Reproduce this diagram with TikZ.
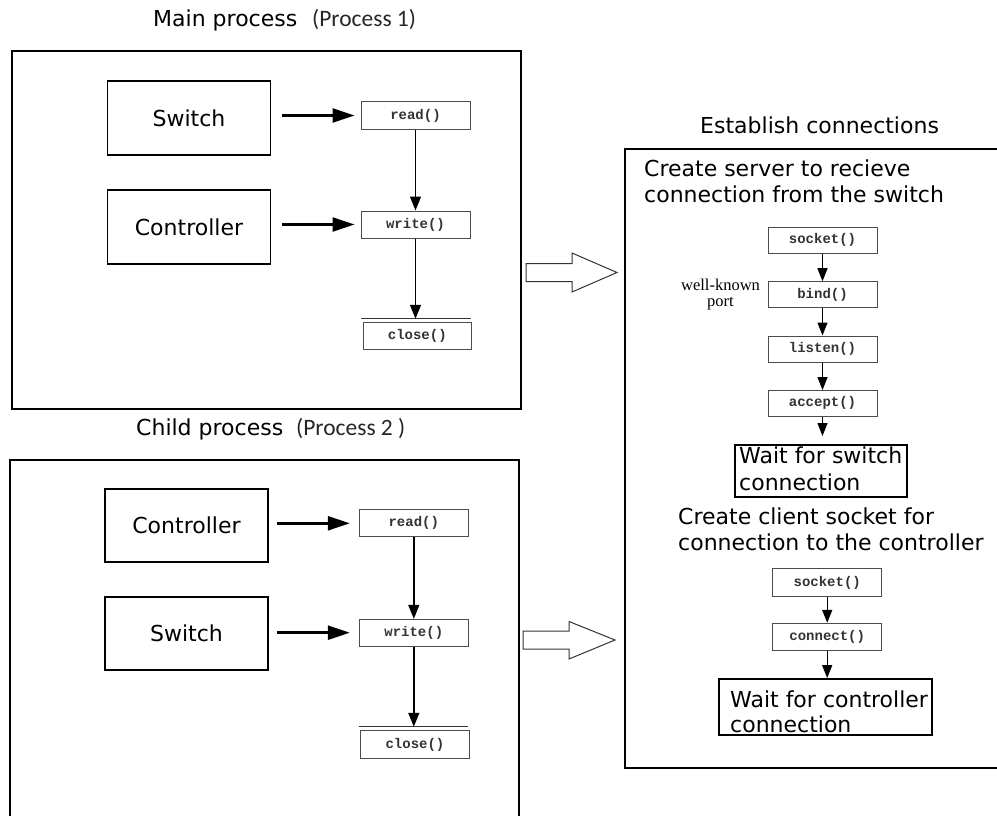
\documentclass[tikz,border=0pt]{standalone}
\usepackage{fontspec}
\setmainfont{DejaVu Sans}
\newfontfamily\calibfont{Carlito}
\newfontfamily\codefont{Liberation Mono}
\newfontfamily\notefont{Liberation Serif}
\usetikzlibrary{arrows.meta}

\begin{document}
\begin{tikzpicture}[x=1pt,y=-1pt,
  big/.style={font=\fontsize{22}{26}\selectfont},
  lbl/.style={big, inner sep=0pt, anchor=base west},
  tag/.style={font=\calibfont\fontsize{23.5}{28}\selectfont, text=black!85, inner sep=0pt, anchor=base west},
  frame/.style={draw, line width=2pt, inner sep=0pt},
  actor/.style={draw, line width=1.8pt, big, inner sep=0pt},
  call/.style={draw=black!70, line width=1pt, font=\codefont\bfseries\fontsize{14}{16}\selectfont, text=black!80, inner sep=0pt, minimum width=109},
  waitbox/.style={draw, line width=2pt, inner sep=0pt},
  feed/.style={line width=2.5pt, -{Triangle[length=22pt,width=14pt]}},
  flow/.style={line width=1.5pt, -{Triangle[length=14pt,width=11pt]}},
  sflow/.style={line width=1.3pt, -{Triangle[length=13pt,width=10pt]}},
  hollow/.style={draw=black!80, line width=1pt, fill=white},
  note/.style={font=\notefont\fontsize{16.5}{18}\selectfont, inner sep=0pt, anchor=base}
]
\useasboundingbox (0,0) rectangle (997,816);
\clip (0,0) rectangle (997,816);

% ---------- main process ----------
\node[lbl] (t1) at (153,27) {Main process};
\node[tag] (p1) at (312,27) {(Process 1)};
\node[frame, minimum width=509, minimum height=358] (mainbox) at (266.5,230) {};

\node[actor, minimum width=163, minimum height=74] (sw1) at (189,118) {Switch};
\node[actor, minimum width=163, minimum height=74] (ct1) at (189,227) {Controller};

\node[call, minimum height=28] (rd1) at (415.5,115.5) {read()};
\node[call, minimum height=27] (wr1) at (415.5,224.5) {write()};
\node[call, minimum width=108.5, minimum height=26.5] (cl1) at (417.3,336) {close()};
\draw[black!80, line width=1pt] ([shift={(-1.5,-3.5)}]cl1.north west) -- ([shift={(-1.5,-3.5)}]cl1.north east);

\draw[feed, shorten <=11pt, shorten >=6pt] (sw1.east |- rd1.west) -- (rd1.west);
\draw[feed, shorten <=11pt, shorten >=6pt] (ct1.east |- wr1.west) -- (wr1.west);
\draw[flow] (rd1.south) -- (wr1.north);
\draw[flow, shorten >=3.5pt] (wr1.south) -- (wr1.south |- cl1.north);

% ---------- child process ----------
\node[lbl] (t2) at (136,435) {Child process};
\node[tag] (p2) at (296,435) {(Process 2 )};
\node[frame, minimum width=509, minimum height=370] (childbox) at (264.5,645) {};

\node[actor, minimum width=163, minimum height=73] (ct2) at (186.5,525.5) {Controller};
\node[actor, minimum width=163, minimum height=73] (sw2) at (186.5,633.5) {Switch};

\node[call, minimum height=26.7] (rd2) at (413.8,523.3) {read()};
\node[call, minimum height=26.7] (wr2) at (413.8,632.7) {write()};
\node[call, minimum width=108.5, minimum height=27.5] (cl2) at (415,744.5) {close()};
\draw[black!80, line width=1pt] ([shift={(-1.5,-3.5)}]cl2.north west) -- ([shift={(-1.5,-3.5)}]cl2.north east);

\draw[feed, shorten <=8pt, shorten >=9pt] (ct2.east |- rd2.west) -- (rd2.west);
\draw[feed, shorten <=8pt, shorten >=9pt] (sw2.east |- wr2.west) -- (wr2.west);
\draw[flow] (rd2.south) -- (wr2.north);
\draw[flow, shorten >=3.5pt] (wr2.south) -- (wr2.south |- cl2.north);

% ---------- hand-over arrows ----------
\draw[hollow] (526,263.5) -- (572,263.5) -- (572,253) -- (617,272.5) -- (572,292) -- (572,281.5) -- (526,281.5) -- cycle;
\draw[hollow] (523,631) -- (569,631) -- (569,621.5) -- (615,640) -- (569,659) -- (569,649) -- (523,649) -- cycle;

% ---------- establish connections ----------
\node[lbl] (t3) at (700,134) {Establish connections};
\node[frame, minimum width=380, minimum height=619] (connbox) at (815,458.5) {};

\node[lbl] (srvA) at (644,176) {Create server to recieve};
\node[lbl] (srvB) at (644,202) {connection from the switch};

\node[call, minimum height=26] (sock1) at (822.5,240) {socket()};
\node[call, minimum height=26] (bind1) at (822.5,294.7) {bind()};
\node[call, minimum height=26] (lstn1) at (822.5,349) {listen()};
\node[call, minimum height=25.5] (acpt1) at (822.5,403.3) {accept()};
\coordinate (acptend) at (822.5,436);

\node[note] (wkA) at (720.5,290) {well-known};
\node[note] (wkB) at (720.5,306.5) {port};

\draw[sflow] (sock1.south) -- (bind1.north);
\draw[sflow] (bind1.south) -- (lstn1.north);
\draw[sflow] (lstn1.south) -- (acpt1.north);
\draw[sflow] (acpt1.south) -- (acptend);

\node[waitbox, minimum width=172, minimum height=52] (wsw) at (821,471) {};
\node[lbl] (wswA) at (739,463) {Wait for switch};
\node[lbl] (wswB) at (739,490) {connection};

\node[lbl] (cliA) at (678,524) {Create client socket for};
\node[lbl] (cliB) at (678,550) {connection to the controller};

\node[call, minimum height=27.7] (sock2) at (827.2,582.8) {socket()};
\node[call, minimum height=27.4] (conn2) at (827.2,637) {connect()};

\node[waitbox, minimum width=213.6, minimum height=55.7] (wct) at (825.5,707) {};
\node[lbl] (wctA) at (730,707) {Wait for controller};
\node[lbl] (wctB) at (730,732.5) {connection};

\draw[sflow] (sock2.south) -- (conn2.north);
\draw[sflow] (conn2.south) -- (conn2.south |- wct.north);
\end{tikzpicture}
\end{document}
